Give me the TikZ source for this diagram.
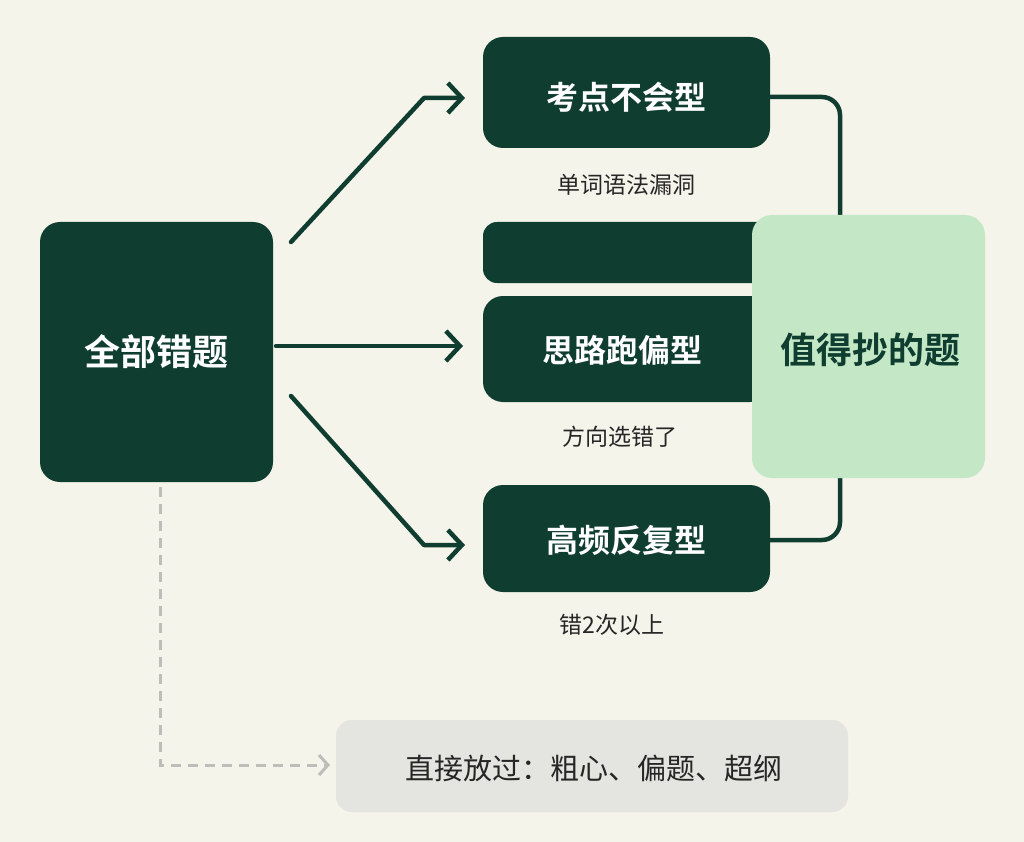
\documentclass[tikz,border=0pt]{standalone}
\usepackage{fontspec}
\newfontfamily\cjk{Noto Sans CJK SC}
\newfontfamily\cjkb{Noto Sans CJK SC Bold}
\usetikzlibrary{arrows.meta}
\definecolor{bg}{HTML}{F4F4EA}
\definecolor{dk}{HTML}{0F3D30}
\definecolor{lg}{HTML}{C4E8C6}
\definecolor{gb}{HTML}{E4E4E1}
\definecolor{gl}{HTML}{BDBDBA}
\begin{document}
\begin{tikzpicture}[x=1pt,y=-1pt,
 box/.style={fill=dk,rounded corners=20pt,inner sep=0pt},
 btxt/.style={text=white,font=\cjkb\fontsize{32}{36}\selectfont},
 sub/.style={text=black!85,font=\cjk\fontsize{23}{26}\selectfont},
 con/.style={draw=dk,line width=4.5pt,line cap=round,line join=round},
 arr/.style={con,-{Straight Barb[length=14pt,width=30pt,line width=4.5pt]}}]
\fill[bg] (0,0) rectangle (1024,842);
\useasboundingbox (0,0) rectangle (1024,842);
% connectors behind
\draw[con,rounded corners=18pt] (770,97) -- (840,97) -- (840,215);
\draw[con,rounded corners=18pt] (840,478) -- (840,540) -- (770,540);
\fill[box] (40,222) rectangle (273,482);
\node[btxt,font=\cjkb\fontsize{36}{40}\selectfont] (all) at (156.5,352) {全部错题};
\fill[box] (483,37) rectangle (770,148);
\node[btxt] (a) at (626,97) {考点不会型};
\node[sub] (as) at (626,185) {单词语法漏洞};
\fill[box,rounded corners=14pt] (483,222) rectangle (790,283);
\fill[box] (483,296) rectangle (770,402);
\node[btxt] (b) at (622,350) {思路跑偏型};
\node[sub] (bs) at (620,437) {方向选错了};
\fill[box] (483,485) rectangle (770,592);
\node[btxt] (c) at (626,540) {高频反复型};
\node[sub] (cs) at (612,625) {错2次以上};
\fill[lg,rounded corners=20pt] (752,215) rectangle (985,478);
\node[text=dk,font=\cjkb\fontsize{36}{40}\selectfont] (g) at (870,350) {值得抄的题};
\fill[gb,rounded corners=16pt] (336,720) rectangle (848,812);
\node[text=black!85,font=\cjk\fontsize{29}{32}\selectfont] (skip) at (594,768) {直接放过：粗心、偏题、超纲};
\coordinate (p1) at (291,242); \coordinate (q1) at (424,98); \coordinate (e1) at (465,98);
\coordinate (p2) at (276,346); \coordinate (e2) at (463,346);
\coordinate (p3) at (291,396); \coordinate (q3) at (424,545); \coordinate (e3) at (465,545);
\draw[arr] (p1) -- (q1) -- (e1);
\draw[arr] (p2) -- (e2);
\draw[arr] (p3) -- (q3) -- (e3);
\coordinate (d0) at (160,487); \coordinate (d1) at (160,765); \coordinate (d2) at (330,765);
\draw[gl,line width=3pt,dash pattern=on 10pt off 7pt,-{Straight Barb[length=9pt,width=20pt,line width=3pt]}] (d0) -- (d1) -- (d2);
\end{tikzpicture}
\end{document}
